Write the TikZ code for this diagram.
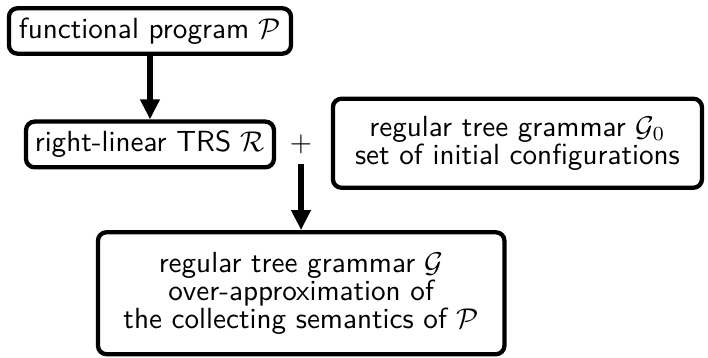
\documentclass[tikz,border=0pt]{standalone}
\usetikzlibrary{shapes.geometric, arrows.meta}
\tikzstyle{box} = [rectangle, rounded corners=3pt, line width=1.5pt, draw=black, text centered, align=center, inner xsep=0pt, inner ysep=3.3pt, font=\sffamily\fontsize{10.2}{9.8}\selectfont]
\tikzstyle{arrow} = [line width=2pt, -{Triangle[width=6.5pt,length=7pt]}]

\begin{document}
\begin{tikzpicture}[node distance=1.396cm]
\useasboundingbox (-1.845,0.381) rectangle (6.864,-4.022);
\node (prog) [box, minimum width=3.47cm, minimum height=0.54cm] {functional program $\mathcal{P}$};
\node (trs) [box, below of=prog, minimum width=3.05cm, minimum height=0.54cm] {right-linear TRS $\mathcal{R}$};
\node (init) [box, right of=trs, xshift=3.124cm, yshift=0.015cm, minimum width=4.54cm, minimum height=1.095cm] {regular tree grammar $\mathcal{G}_0$\\set of initial configurations};
\node (plus) [right of=trs, xshift=0.46cm] {$+$};

\node (res) [box, below of=trs, yshift=-0.434cm, xshift=1.86cm, minimum width=5cm, minimum height=1.5cm] {regular tree grammar $\mathcal{G}$\\over-approximation of\\the collecting semantics of $\mathcal{P}$};

\draw [arrow] (prog) -- (trs);
\draw [arrow] (plus) -- (res);
\end{tikzpicture}
\end{document}
